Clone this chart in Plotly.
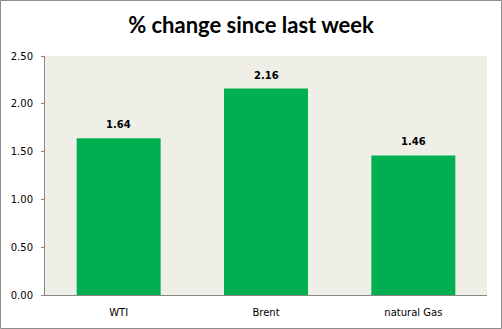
import plotly.graph_objects as go

categories = ["WTI", "Brent", "natural Gas"]
values = [1.64, 2.16, 1.46]
tick_vals = [0.0, 0.5, 1.0, 1.5, 2.0, 2.5]
tick_text = ["0.00", "0.50", "1.00", "1.50", "2.00", "2.50"]

W, H = 502, 329
ml, mr, mt, mb = 45, 15, 56, 34
pw = W - ml - mr
ph = H - mt - mb

fig = go.Figure(go.Bar(
    x=categories, y=values, width=0.57,
    marker=dict(color="#00B050", line=dict(width=0)),
))

for c, v in zip(categories, values):
    fig.add_annotation(x=c, y=v, text=f"<b>{v:.2f}</b>", showarrow=False,
                       yanchor="bottom", yshift=6,
                       font=dict(family="DejaVu Sans", size=10, color="#000000"))

fig.update_layout(
    width=W, height=H,
    margin=dict(l=ml, r=mr, t=mt, b=mb),
    paper_bgcolor="white", plot_bgcolor="#EFEFE8",
    title=dict(text="<b>% change since last week</b>", x=0.5, xanchor="center",
               y=1 - 25 / H, yanchor="middle",
               font=dict(family="Lato", size=22, color="#000000")),
    showlegend=False,
    xaxis=dict(showgrid=False, showline=True, linecolor="#868686", linewidth=1,
               tickfont=dict(family="DejaVu Sans", size=10, color="#000000"),
               ticks="", ticklabelstandoff=8, fixedrange=True),
    yaxis=dict(range=[0, 2.5], tickvals=tick_vals, ticktext=tick_text,
               showgrid=False, showline=True, linecolor="#868686", linewidth=1,
               ticks="outside", ticklen=3, tickcolor="#868686",
               ticklabelstandoff=6,
               tickfont=dict(family="DejaVu Sans", size=10, color="#000000"),
               zeroline=False),
    shapes=[dict(type="rect", xref="paper", yref="paper",
                 x0=(0.5 - ml) / pw, x1=(W - 0.5 - ml) / pw,
                 y0=(ph + mt - (H - 0.5)) / ph, y1=(ph + mt - 0.5) / ph,
                 line=dict(color="#8C8C8C", width=1), layer="below")],
)

fig.write_html("out.html")
